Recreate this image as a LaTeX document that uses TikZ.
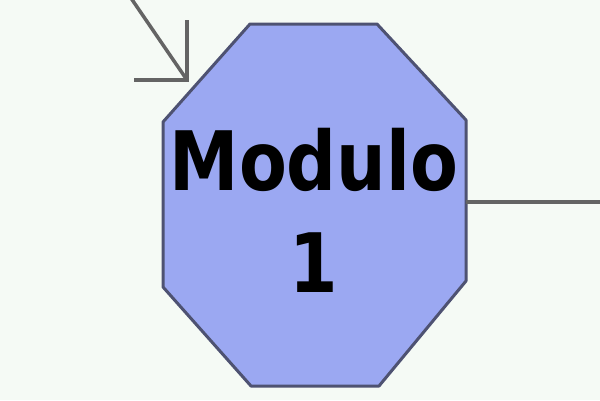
\documentclass[tikz,border=0pt]{standalone}
\usepackage{fontspec}
\usepackage{xcolor}
\usepackage{tikz}
\usetikzlibrary{positioning}
\newfontfamily\modfont{DejaVu Sans}[FakeStretch=0.85]
\definecolor{bgcol}{HTML}{F5FAF5}
\definecolor{modfill}{HTML}{9BA8F2}
\definecolor{modedge}{HTML}{4E5272}
\definecolor{linecol}{HTML}{646464}

\begin{document}
\begin{tikzpicture}[x=1pt,y=-1pt,
                module/.style = {fill = modfill, draw = modedge, line width = 3pt, line join = round},
                wire/.style = {draw = linecol, line width = 3.5pt},
                label/.style = {align = center, font = \modfont\bfseries\fontsize{82}{102}\selectfont}]
            \fill[bgcol] (0,0) rectangle (600,400);
            \useasboundingbox (0,0) rectangle (600,400);
            \draw[module] (250,24) -- (377,24) -- (466,120) -- (466,281) -- (379,386)
                -- (251,386) -- (163,287) -- (163,122) -- cycle;
            \node[label] (mod) at (314,210.5) {Modulo\\1};
            % incoming arrow
            \coordinate (in) at (120,-18);
            \coordinate (tip) at (187,80);
            \draw[wire] (in) -- (tip);
            \draw[wire, line join = miter] (tip) ++(0,-60) -- (tip) -- ++(-53,0);
            % outgoing line
            \coordinate (out) at (466,202);
            \coordinate (end) at (600,202);
            \draw[wire] (out) -- (end);
            \end{tikzpicture}
\end{document}
